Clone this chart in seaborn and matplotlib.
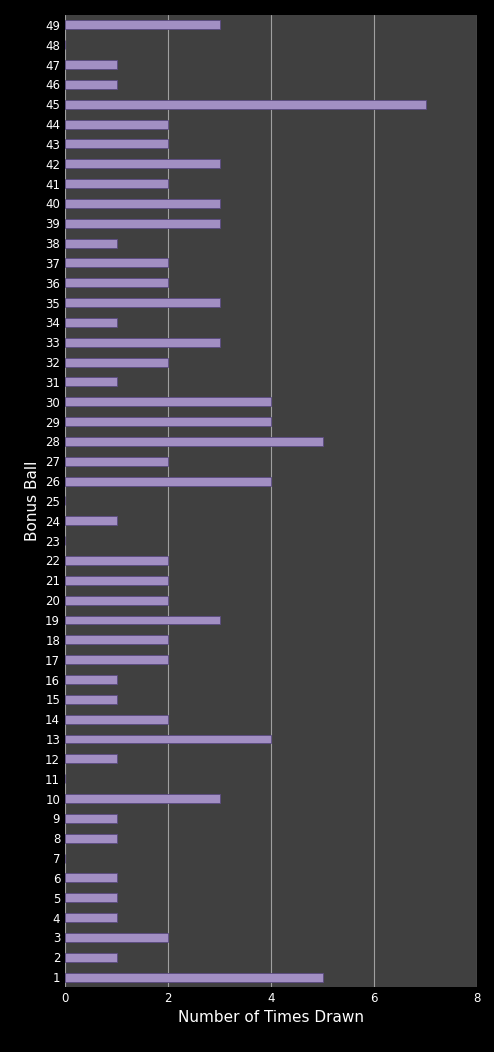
import matplotlib
matplotlib.use("Agg")
import matplotlib.pyplot as plt
import seaborn as sns
import pandas as pd

balls = list(range(1, 50))
counts = [5,1,2,1,1,1,0,1,1,3,0,1,4,2,1,1,2,2,3,2,2,2,0,1,0,4,2,5,4,4,
          1,2,3,1,3,2,2,1,3,3,2,3,2,2,7,1,1,0,3]

df = pd.DataFrame({"ball": [str(b) for b in balls], "count": counts})
order = [str(b) for b in reversed(balls)]

sns.set_style("dark")
fig = plt.figure(figsize=(4.94, 10.52), dpi=100, facecolor="black")
ax = fig.add_axes([0.1316, 0.0618, 0.834, 0.924])
ax.set_facecolor("#404040")
sns.barplot(data=df, x="count", y="ball", order=order, orient="h",
            color="#9f86cc", width=0.45, edgecolor="#5a4a80", linewidth=0.6, ax=ax)
ax.set_xlim(0, 8)
ax.set_xticks([0, 2, 4, 6, 8])
ax.grid(axis="x", color="#a0a0a0", linewidth=0.8)
ax.grid(axis="y", visible=False)
ax.set_axisbelow(True)
for s in ax.spines.values():
    s.set_visible(False)
ax.tick_params(colors="white", labelsize=8.5, length=0)
ax.set_xlabel("Number of Times Drawn", color="white", fontsize=11)
ax.set_ylabel("Bonus Ball", color="white", fontsize=11, labelpad=4)
fig.savefig("out.png", dpi=100, facecolor="black")
